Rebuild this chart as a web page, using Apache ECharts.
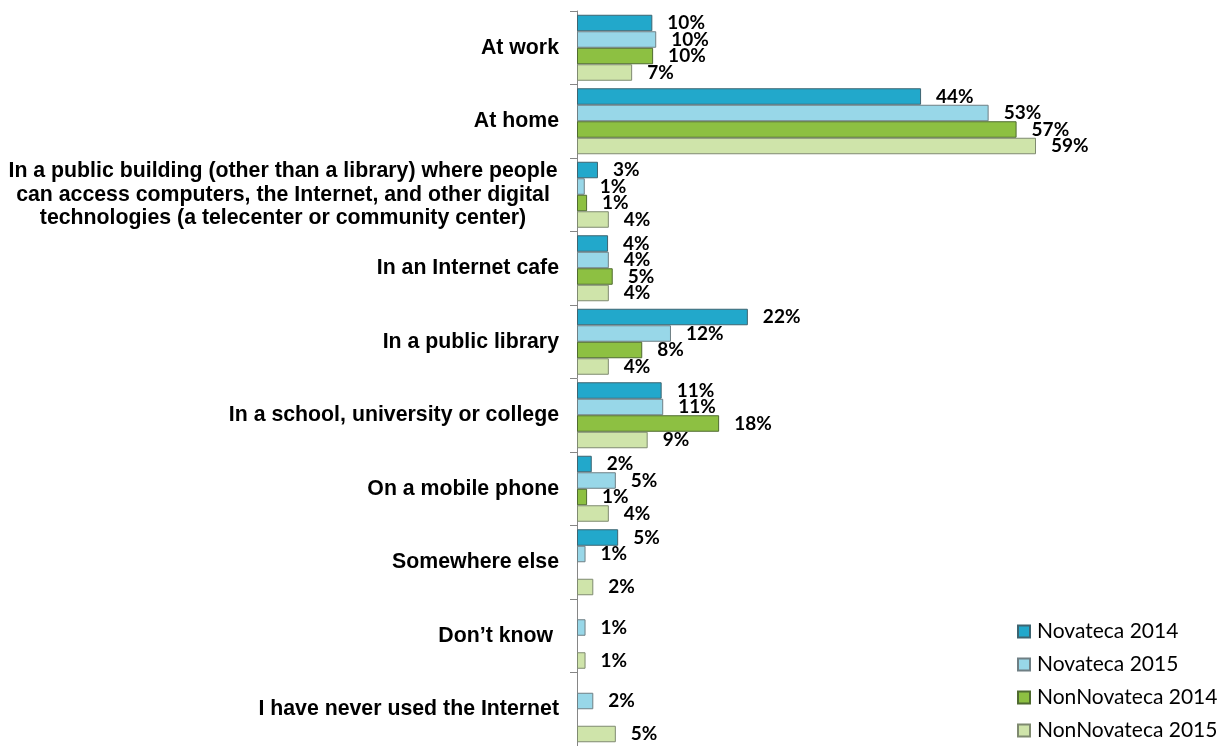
<!DOCTYPE html>
<html>
<head>
<meta charset="utf-8">
<script src="https://cdn.jsdelivr.net/npm/echarts@6/dist/echarts.min.js"></script>
<style>
html,body{margin:0;padding:0;background:#fff;}
#chart{width:1230px;height:746px;}
</style>
</head>
<body>
<div id="chart"></div>
<script>
const categories = [
  "At work",
  "At home",
  "In a public building (other than a library) where people\ncan access computers, the Internet, and other digital\ntechnologies (a telecenter or community center)",
  "In an Internet cafe",
  "In a public library",
  "In a school, university or college",
  "On a mobile phone",
  "Somewhere else",
  "Don\u2019t know ",
  "I have never used the Internet"
];
const seriesNames = ["Novateca 2014", "Novateca 2015", "NonNovateca 2014", "NonNovateca 2015"];
const novateca2014    = [9.7, 44.3, 2.7, 4.0, 22.0, 10.9, 1.9, 5.3, null, null];
const novateca2015    = [10.2, 53.0, 1.0, 4.1, 12.1, 11.1, 5.0, 1.1, 1.1, 2.1];
const nonNovateca2014 = [9.8, 56.6, 1.3, 4.6, 8.4, 18.3, 1.3, null, null, null];
const nonNovateca2015 = [7.1, 59.1, 4.1, 4.1, 4.1, 9.1, 4.1, 2.1, 1.1, 5.0];

const colors = ["#22A8CB", "#98D7E8", "#8DC042", "#CFE4AA"];
const borders = ["#3E6470", "#6F7F84", "#4F6B30", "#7F8A70"];
const allData = [novateca2014, novateca2015, nonNovateca2014, nonNovateca2015];

const chart = echarts.init(document.getElementById('chart'), null, {renderer: 'canvas'});
const catFont = {fontFamily: 'Liberation Sans, Arial, sans-serif', fontWeight: 'bold', fontSize: 21.3, color: '#000'};

const option = {
  animation: false,
  backgroundColor: '#fff',
  grid: {left: 577, right: 187, top: 11, bottom: -5, containLabel: false},
  legend: {
    orient: 'vertical',
    left: 1012,
    top: 616,
    height: 140,
    itemWidth: 12,
    itemHeight: 12,
    itemGap: 12,
    icon: 'rect',
    textStyle: {fontFamily: 'Lato, sans-serif', fontSize: 21, color: '#000', padding: [0, 0, 0, 2]},
    data: seriesNames
  },
  xAxis: {
    type: 'value', min: 0, max: 60,
    show: false
  },
  yAxis: {
    type: 'category',
    inverse: true,
    data: categories,
    axisLine: {show: true, lineStyle: {color: '#868686', width: 1}},
    axisTick: {show: true, length: 7, lineStyle: {color: '#868686'}},
    axisLabel: Object.assign({}, catFont, {
      margin: 18,
      interval: 0,
      formatter: function (v) {
        if (v.indexOf('\n') >= 0) {
          return v.split('\n').map(function (s) { return '{c|' + s + '}'; }).join('\n');
        }
        return v;
      },
      rich: {c: Object.assign({}, catFont, {width: 552, align: 'center', lineHeight: 23.5})}
    })
  },
  series: seriesNames.map(function (name, i) {
    return {
      name: name,
      type: 'bar',
      data: allData[i],
      barWidth: 16.5,
      barGap: '0%',
      itemStyle: {color: colors[i], borderColor: borders[i], borderWidth: 1},
      label: {
        show: true,
        position: 'right',
        distance: 15,
        fontFamily: 'Lato, sans-serif',
        fontWeight: 'bold',
        fontSize: 19,
        color: '#000',
        formatter: function (p) { return p.value == null ? '' : Math.round(p.value) + '%'; }
      }
    };
  })
};
chart.setOption(option);
</script>
</body>
</html>
